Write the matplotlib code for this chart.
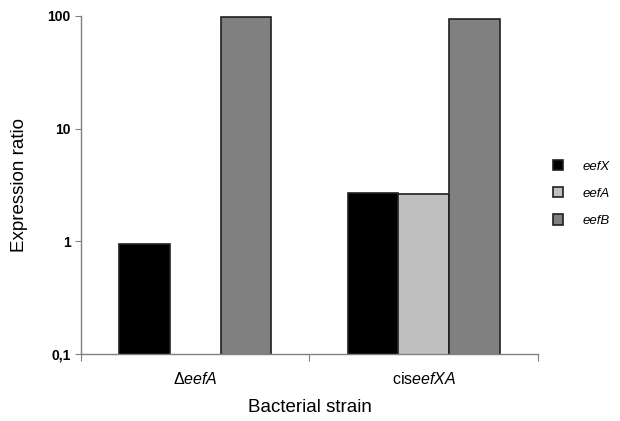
import numpy as np
import matplotlib
matplotlib.use("Agg")
import matplotlib.pyplot as plt

plt.rcParams['font.family'] = ['Liberation Sans', 'DejaVu Sans']
plt.rcParams['mathtext.fontset'] = 'custom'
plt.rcParams['mathtext.rm'] = 'Liberation Sans'
plt.rcParams['mathtext.it'] = 'Liberation Sans:italic'
plt.rcParams['mathtext.bf'] = 'Liberation Sans:bold'

categories = [r'$\Delta\mathit{eefA}$', r'$\mathrm{cis}\mathit{eefXA}$']
series_names = ['eefX', 'eefA', 'eefB']
eefX = [0.95, 2.7]
eefA = [np.nan, 2.65]
eefB = [98, 94]
colors = ['#000000', '#c0c0c0', '#808080']
ytick_vals = [0.1, 1, 10, 100]
ytick_labels = ['0,1', '1', '10', '100']

fig = plt.figure(figsize=(6.2, 4.21), dpi=100)
ax = fig.add_axes([0.1306, 0.159, 0.737, 0.803])
ax.set_yscale('log')

x = np.arange(len(categories))
w = 0.222
handles = []
for i, (vals, c, name) in enumerate(zip([eefX, eefA, eefB], colors, series_names)):
    bars = ax.bar(x + (i - 1) * w, vals, width=w, color=c, edgecolor='#202020',
                  linewidth=1.2, label=name)
    handles.append(bars)

ax.set_ylim(0.1, 100)
ax.set_xlim(-0.5, 1.5)
ax.set_yticks(ytick_vals)
ax.set_yticklabels(ytick_labels, fontweight='bold', fontsize=10)
ax.yaxis.set_minor_locator(matplotlib.ticker.NullLocator())
ax.set_xticks([-0.5, 0.5, 1.5])
ax.set_xticklabels([])
ax.set_xticks(x, minor=True)
ax.set_xticklabels(categories, minor=True, fontsize=11.5)
ax.tick_params(axis='x', which='minor', length=0, pad=12)
ax.tick_params(axis='x', which='major', length=5, color='#808080', direction='out')
ax.tick_params(axis='y', which='major', length=4, color='#808080', direction='out')

for s in ['top', 'right']:
    ax.spines[s].set_visible(False)
for s in ['left', 'bottom']:
    ax.spines[s].set_color('#808080')
    ax.spines[s].set_linewidth(1.0)

ax.set_xlabel('Bacterial strain', fontsize=13.5, labelpad=9)
ax.set_ylabel('Expression ratio', fontsize=13.5, labelpad=14)

leg = fig.legend(handles=handles, labels=series_names, loc='center left',
                 bbox_to_anchor=(0.872, 0.54), frameon=False,
                 prop={'style': 'italic', 'size': 9.5},
                 handlelength=0.8, handleheight=0.8, labelspacing=1.1,
                 handletextpad=1.5)

fig.savefig('out.png', dpi=100)
